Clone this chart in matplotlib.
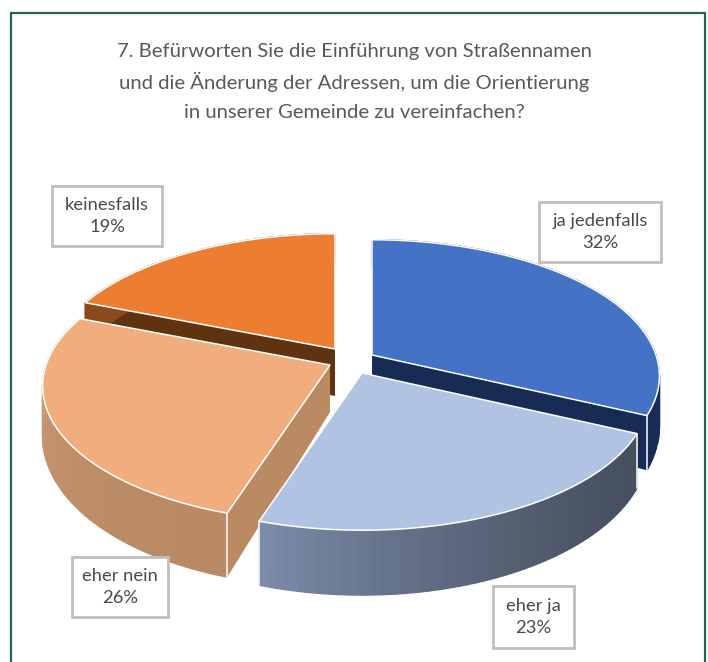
import numpy as np
import matplotlib
matplotlib.use("Agg")
import matplotlib.pyplot as plt
from matplotlib.patches import Rectangle

title = ["7. Befürworten Sie die Einführung von Straßennamen",
         "und die Änderung der Adressen, um die Orientierung",
         "in unserer Gemeinde zu vereinfachen?"]
labels = ["ja jedenfalls", "eher ja", "eher nein", "keinesfalls"]
values = [32, 23, 26, 19]

top_colors = ["#4472C4", "#B0C3E2", "#F1AD7E", "#ED7D31"]
face_colors = ["#172B55", "#4A5160", "#BA8A63", "#5F3210"]
side_start = ["#1C3260", "#46505F", "#B98A64", "#8A4A1C"]
side_end = ["#172B55", "#7C8CA9", "#D59F78", "#8A4A1C"]
apex = [(372, 355), (362, 373), (330, 365), (335, 349)]
box_xy = [(539, 202, 122, 60), (493, 586, 81, 62), (72, 557, 96, 60), (52, 186, 110, 60)]
draw_order = [3, 0, 2, 1]

RX, RY, K = 284, 133, 0.154
T0, T1 = 47, 0.38


def rim(cx, cy, deg):
    # perspective projection of the pie circle, 0 deg at 12 o'clock, clockwise
    t = np.radians(deg)
    u, v = np.sin(t), np.cos(t)
    f = 1 / (1 + K * v)
    return cx + RX * u * f, cy - RY * v * f, T0 * (1 - T1 * v)


def mix(c1, c2, a):
    c1 = np.array(matplotlib.colors.to_rgb(c1))
    c2 = np.array(matplotlib.colors.to_rgb(c2))
    return tuple(c1 + (c2 - c1) * a)


fig = plt.figure(figsize=(7.08, 6.62), dpi=100)
ax = fig.add_axes([0, 0, 1, 1])
ax.set_xlim(0, 708)
ax.set_ylim(662, 0)
ax.axis("off")
ax.add_patch(Rectangle((11, 13), 694, 670, fc="white", ec="#1F6B45", lw=1.6))

font = "Lato"
for i, line in enumerate(title):
    ax.text(354, 51 + i * 30.5, line, ha="center", va="center", family=font,
            fontsize=14.6, color="#595959")

edges = np.cumsum([0] + values) / sum(values) * 360

for z, i in enumerate(draw_order):
    a1, a2 = edges[i], edges[i + 1]
    cx, cy = apex[i]
    ang = np.linspace(a1, a2, 60)
    xs, ys, ts = rim(cx, cy, ang)

    # radial faces
    for j in (0, -1):
        ax.fill([cx, xs[j], xs[j], cx], [cy, ys[j], ys[j] + ts[j], cy + T0],
                color=face_colors[i], lw=0, zorder=1 + z)

    # outer wall, shaded along the arc
    for k in range(len(ang) - 1):
        col = mix(side_start[i], side_end[i], (k / (len(ang) - 2)) ** 1.7)
        ax.fill([xs[k], xs[k + 1], xs[k + 1], xs[k]],
                [ys[k], ys[k + 1], ys[k + 1] + ts[k + 1], ys[k] + ts[k]],
                fc=col, ec=col, lw=1.0, zorder=1 + z)

    # corner highlights
    for j in (0, -1):
        if ys[j] > cy:
            ax.plot([xs[j], xs[j]], [ys[j], ys[j] + ts[j]], color="white", lw=1.1,
                    zorder=1.5 + z)

    # top of the slice
    ax.fill(np.r_[cx, xs], np.r_[cy, ys], fc=top_colors[i], ec="white", lw=1.1,
            joinstyle="miter", zorder=1.6 + z)

for name, val, (bx, by, bw, bh) in zip(labels, values, box_xy):
    ax.add_patch(Rectangle((bx, by), bw, bh, fc="white", ec="#BFBFBF", lw=2, zorder=10))
    ax.text(bx + bw / 2, by + bh / 2, f"{name}\n{val}%", ha="center", va="center",
            family=font, fontsize=13.2, color="#4A4A4A", linespacing=1.45, zorder=11)

fig.savefig("out.png", dpi=100)
